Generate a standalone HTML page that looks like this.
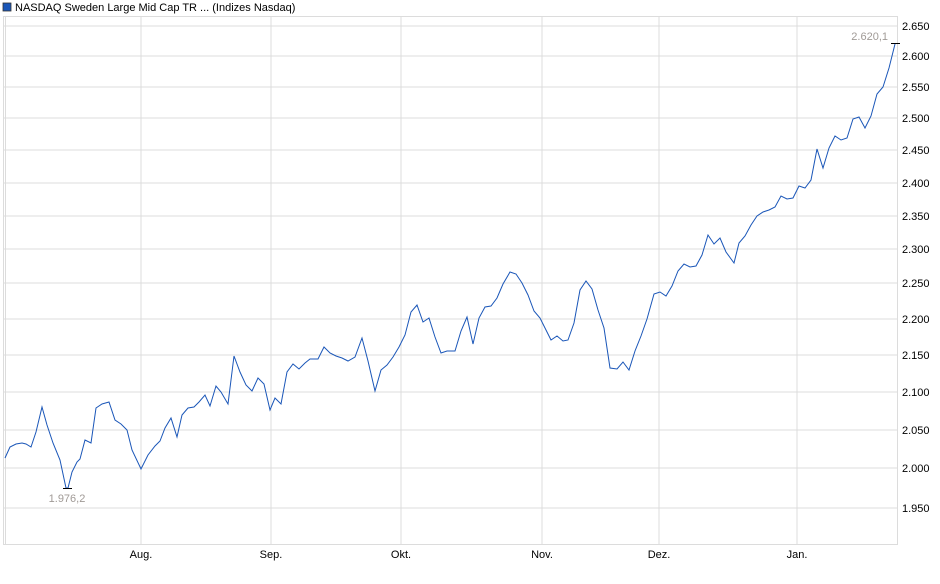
<!DOCTYPE html>
<html><head><meta charset="utf-8"><style>
body{margin:0;background:#fff;}
svg text{font-family:"Liberation Sans",Arial,sans-serif;}
</style></head><body>
<svg width="940" height="579" xmlns="http://www.w3.org/2000/svg">
<rect x="0" y="0" width="940" height="579" fill="#fff"/>
<rect x="3" y="3" width="8" height="8" fill="#1a56b8" stroke="#333" stroke-width="0.8"/>
<text x="15" y="11" font-size="11" fill="#000">NASDAQ Sweden Large Mid Cap TR ... (Indizes Nasdaq)</text>
<g stroke="#dcdcdc" stroke-width="1">
<line x1="3" y1="26" x2="898" y2="26"/>
<line x1="3" y1="56" x2="898" y2="56"/>
<line x1="3" y1="87" x2="898" y2="87"/>
<line x1="3" y1="118" x2="898" y2="118"/>
<line x1="3" y1="150" x2="898" y2="150"/>
<line x1="3" y1="183" x2="898" y2="183"/>
<line x1="3" y1="216" x2="898" y2="216"/>
<line x1="3" y1="249" x2="898" y2="249"/>
<line x1="3" y1="283" x2="898" y2="283"/>
<line x1="3" y1="319" x2="898" y2="319"/>
<line x1="3" y1="355" x2="898" y2="355"/>
<line x1="3" y1="392" x2="898" y2="392"/>
<line x1="3" y1="430" x2="898" y2="430"/>
<line x1="3" y1="468" x2="898" y2="468"/>
<line x1="3" y1="508" x2="898" y2="508"/>
<line x1="141" y1="16" x2="141" y2="545"/>
<line x1="271" y1="16" x2="271" y2="545"/>
<line x1="401" y1="16" x2="401" y2="545"/>
<line x1="542" y1="16" x2="542" y2="545"/>
<line x1="659" y1="16" x2="659" y2="545"/>
<line x1="797" y1="16" x2="797" y2="545"/>
<line x1="5.5" y1="16" x2="5.5" y2="545"/>
</g>
<rect x="3.5" y="16.5" width="894" height="528" fill="none" stroke="#dcdcdc"/>
<g font-size="11" fill="#000" text-anchor="start">
<text x="902" y="30">2.650</text><text x="902" y="60">2.600</text><text x="902" y="91">2.550</text>
<text x="902" y="122">2.500</text><text x="902" y="154">2.450</text><text x="902" y="187">2.400</text>
<text x="902" y="220">2.350</text><text x="902" y="253">2.300</text><text x="902" y="287">2.250</text>
<text x="902" y="323">2.200</text><text x="902" y="359">2.150</text><text x="902" y="396">2.100</text>
<text x="902" y="434">2.050</text><text x="902" y="472">2.000</text><text x="902" y="512">1.950</text>
</g>
<g font-size="11" fill="#000" text-anchor="middle">
<text x="141" y="558">Aug.</text><text x="271" y="558">Sep.</text><text x="401" y="558">Okt.</text>
<text x="542" y="558">Nov.</text><text x="659" y="558">Dez.</text><text x="797" y="558">Jan.</text>
</g>
<polyline fill="none" stroke="#1a56b8" stroke-width="1" points="5,458 10,447 16,444 22,443 26,444 31,447 36,432 42,407 47,425 53,443 60,460 66,488 68,488 72,472 77,462 80,459 85,440 91,443 96,408 102,404 109,402 115,420 121,424 127,430 132,450 141,469 148,455 155,446 160,441 165,428 171,418 177,437 182,415 188,408 194,407 199,402 205,395 210,406 216,386 221,392 228,404 234,356 240,372 246,385 252,391 258,378 264,384 270,410 275,398 281,404 287,372 293,364 299,369 305,363 310,359 318,359 324,347 330,353 336,356 342,358 348,361 355,357 362,338 368,361 375,391 381,370 387,365 393,357 399,347 405,335 411,312 417,305 423,322 429,318 435,337 441,353 447,351 455,351 461,331 467,317 473,344 479,318 485,307 491,306 497,298 503,284 510,272 516,274 522,283 528,295 534,311 540,318 546,330 551,340 557,336 563,341 568,340 574,323 580,290 586,281 592,289 598,310 604,328 610,368 617,369 623,362 629,370 635,351 641,336 647,319 654,294 660,292 666,296 672,286 678,271 684,264 690,267 696,266 702,255 708,235 714,244 720,238 726,252 734,263 739,243 745,236 751,225 757,216 763,212 769,210 775,207 781,196 787,199 793,198 799,186 805,188 811,180 817,149 823,168 829,148 835,136 841,140 847,138 853,119 859,117 865,128 871,116 877,94 883,87 889,68 895,44"/>
<line x1="63" y1="488.5" x2="72" y2="488.5" stroke="#000"/>
<line x1="891" y1="43.5" x2="900" y2="43.5" stroke="#000"/>
<text x="67" y="502" font-size="11" fill="#a09a96" text-anchor="middle">1.976,2</text>
<text x="888" y="40" font-size="11" fill="#a09a96" text-anchor="end">2.620,1</text>
</svg>
</body></html>
